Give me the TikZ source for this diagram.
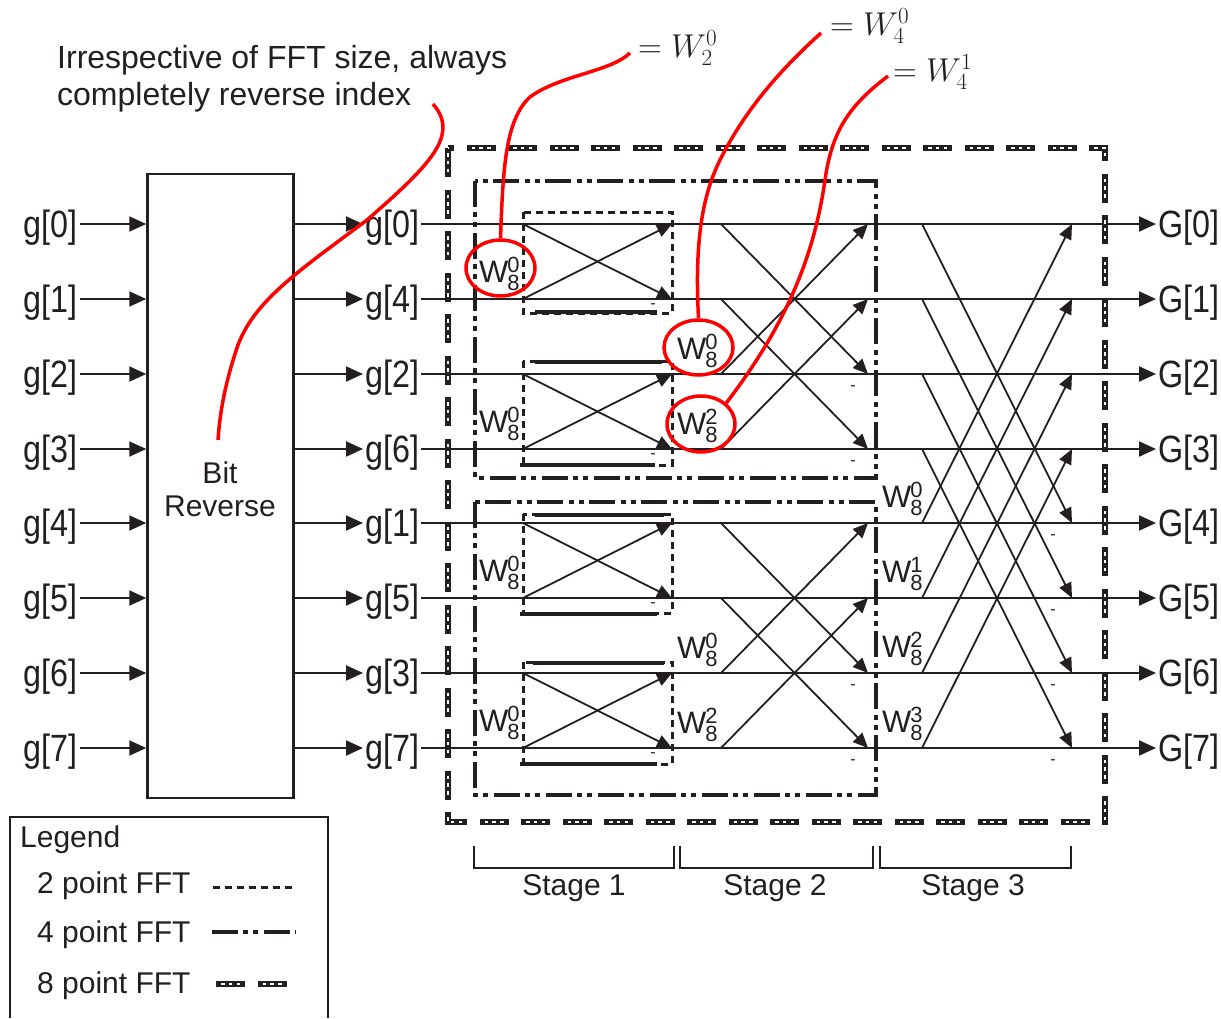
\RequirePackage{fix-cm}
\documentclass[tikz,border=0pt]{standalone}
\usepackage[no-math]{fontspec}
\setmainfont{Liberation Sans}
\newfontfamily\narrowsf[FakeStretch=0.85]{Liberation Sans}
\usetikzlibrary{arrows.meta, positioning, calc, shapes.geometric}
\definecolor{ink}{HTML}{231F20}
\tikzstyle{arrow} = [ink, line width=2pt, -{Triangle[length=17pt,width=15pt]}]
\tikzstyle{bfly} = [ink, line width=1.8pt, -{Triangle[length=15pt,width=13pt]}]
\newcommand{\twid}[2]{W\kern-1pt\rlap{\raisebox{9.5pt}{\fontsize{22}{22}\selectfont #1}}\raisebox{-8.5pt}{\fontsize{22}{22}\selectfont #2}}

\begin{document}
\begin{tikzpicture}[x=1pt, y=-1pt,
    lbl/.style={font=\narrowsf\fontsize{38}{40}\selectfont, text=ink, inner sep=2pt},
    twlabel/.style={font=\fontsize{31}{33}\selectfont, text=ink, inner sep=0pt, anchor=base west},
    minus/.style={font=\fontsize{16}{16}\selectfont, text=ink, inner sep=0pt},
    plain/.style={font=\fontsize{30}{33}\selectfont, text=ink, inner sep=0pt},
    eqlbl/.style={font=\fontsize{33}{36}\selectfont, text=ink, inner sep=0pt, anchor=west},
    ring/.style={draw=red, line width=3.5pt, ellipse, inner sep=0pt, minimum width=69pt, minimum height=56pt},
    redline/.style={red, line width=3.5pt},
    box2/.style={draw=ink, line width=3pt, dash pattern=on 7pt off 5pt},
    box4/.style={draw=ink, line width=4pt, dash pattern=on 26pt off 5pt on 5pt off 5pt on 5pt off 6pt},
    box8/.style={draw=ink, line width=6pt, dash pattern=on 29pt off 12.5pt},
    box8dots/.style={draw=white, line width=2.2pt, dash pattern=on 0pt off 5pt on 3.5pt off 4.25pt on 3.5pt off 4.25pt on 3.5pt off 17.5pt},
    bar/.style={ink, line width=4.5pt},
    bracket/.style={ink, line width=2pt}
  ]
  \useasboundingbox (0,0) rectangle (1221,1018);

  % rows and butterfly end points
  \foreach \i/\y in {0/224,1/299,2/374,3/449,4/523,5/598,6/673,7/748} {
    \coordinate (r\i) at (0,\y);
    \coordinate (a\i) at (523,\y);
    \coordinate (b\i) at (672,\y);
    \coordinate (c\i) at (721,\y);
    \coordinate (d\i) at (868,\y);
    \coordinate (e\i) at (922,\y);
    \coordinate (f\i) at (1072,\y);
  }

  % note
  \node[font=\fontsize{32}{37}\selectfont, text=ink, inner sep=0pt, anchor=north west, align=left] (note) at (57,45) {Irrespective of FFT size, always\\completely reverse index};
  \coordinate (noteend) at (433,104);

  % bit reverse
  \node[draw=ink, line width=2.5pt, minimum width=146pt, minimum height=624pt, inner sep=0pt] (br) at (220.5,486) {};
  \node[plain, align=center] (brlbl) at (220,489) {Bit\\Reverse};
  \coordinate (bitend) at (218,440);

  % inputs
  \foreach \i in {0,...,7} {
    \node[lbl, anchor=base east] (in\i) at ($(r\i)+(80,13)$) {g[\i]};
    \draw[arrow] (in\i.east |- r\i) -- (br.west |- r\i);
  }

  % reordered signals and outputs
  \foreach \i/\m in {0/0,1/4,2/2,3/6,4/1,5/5,6/3,7/7} {
    \node[lbl, anchor=base west] (mid\i) at ($(r\i)+(363,13)$) {g[\m]};
    \draw[arrow] (br.east |- r\i) -- (mid\i.west |- r\i);
    \node[lbl, anchor=base west] (out\i) at ($(r\i)+(1156,13)$) {G[\i]};
    \draw[arrow] (mid\i.east |- r\i) -- (out\i.west |- r\i);
  }

  % Stage 1
  \foreach \p/\q in {0/1,2/3,4/5,6/7} {
    \draw[bfly] (a\p) -- (b\q);
    \draw[bfly] (a\q) -- (b\p);
    \node[minus] at ($(b\q)+(-19,7)$) {-};
    \node[twlabel] (tws1\q) at ($(r\q)+(479,-17)$) {\twid{0}{8}};
  }

  % Stage 2
  \foreach \p/\q/\k in {0/2/0,1/3/2,4/6/0,5/7/2} {
    \draw[bfly] (c\p) -- (d\q);
    \draw[bfly] (c\q) -- (d\p);
    \node[minus] at ($(d\q)+(-15,14)$) {-};
    \node[twlabel] (tws2\q) at ($(r\q)+(677,-15)$) {\twid{\k}{8}};
  }

  % Stage 3
  \foreach \p/\q/\k in {0/4/0,1/5/1,2/6/2,3/7/3} {
    \draw[bfly] (e\p) -- (f\q);
    \draw[bfly] (e\q) -- (f\p);
    \node[minus] at ($(f\q)+(-19,14)$) {-};
    \node[twlabel] (tws3\q) at ($(r\q)+(882,-16)$) {\twid{\k}{8}};
  }

  % 2 point FFT boxes
  \draw[box2] (523,212) rectangle (672,313);
  \draw[box2] (523,361) rectangle (672,465);
  \draw[box2] (523,514) rectangle (672,613);
  \draw[box2] (523,662) rectangle (672,764);
  \draw[bar] (535,312) -- (657,312);
  \draw[bar] (535,362) -- (662,362);
  \draw[bar] (520,465) -- (655,465);
  \draw[bar] (535,515) -- (664,515);
  \draw[bar] (520,614) -- (657,614);
  \draw[bar] (533,663) -- (664,663);
  \draw[bar] (520,764) -- (657,764);

  % 4 point FFT boxes
  \draw[box4] (475,181) rectangle (876,478);
  \draw[box4] (475,502) rectangle (876,795);

  % 8 point FFT box
  \draw[box8] (448,148) rectangle (1105,822);
  \draw[box8dots] (448,148) rectangle (1105,822);

  % twiddle notes
  \node[ring] (ring1) at (500.5,268) {};
  \node[ring, minimum height=55pt] (ring2) at (698.5,347.5) {};
  \node[ring, minimum width=68pt] (ring3) at (701,424) {};
  \node[eqlbl] (eq1) at (638,48) {$=W_2^0$};
  \node[eqlbl] (eq2) at (830,26) {$=W_4^0$};
  \node[eqlbl] (eq3) at (893,72) {$=W_4^1$};
  \draw[redline] (ring1.north) .. controls (503,170) and (505,120) .. (530,97) .. controls (560,75) and (610,72) .. ($(eq1.west)+(-8,5)$);
  \draw[redline] (ring2.north) .. controls (695,250) and (700,200) .. (720,160) .. controls (745,110) and (780,70) .. ($(eq2.west)+(-9,7)$);
  \draw[redline] (ring3.north east) .. controls (790,320) and (815,250) .. (825,180) .. controls (832,130) and (850,105) .. ($(eq3.west)+(-5,4)$);
  \draw[redline] (noteend) .. controls (460,135) and (430,165) .. (367,220) .. controls (300,270) and (255,300) .. (238,345) .. controls (226,380) and (220,410) .. (bitend);

  % stages
  \draw[bracket] (474,846) -- (474,868) -- (674,868) -- (674,846);
  \draw[bracket] (680,846) -- (680,868) -- (873,868) -- (873,846);
  \draw[bracket] (880,846) -- (880,868) -- (1071,868) -- (1071,846);
  \node[plain, anchor=base] (stage1) at (574,895) {Stage 1};
  \node[plain, anchor=base] (stage2) at (775,895) {Stage 2};
  \node[plain, anchor=base] (stage3) at (973,895) {Stage 3};

  % legend
  \draw[ink, line width=2pt] (10,1018) -- (10,817) -- (328,817) -- (328,1018);
  \node[plain, anchor=base west] (legend) at (20,847) {Legend};
  \node[plain, anchor=base west] (leg2) at (37,893) {2 point FFT};
  \node[plain, anchor=base west] (leg4) at (37,942) {4 point FFT};
  \node[plain, anchor=base west] (leg8) at (37,993) {8 point FFT};
  \draw[box2] (213,887) -- (296,887);
  \draw[box4] (212,932) -- (296,932);
  \draw[box8] (216,984) -- (292,984);
  \draw[box8dots] (216,984) -- (292,984);
\end{tikzpicture}
\end{document}
